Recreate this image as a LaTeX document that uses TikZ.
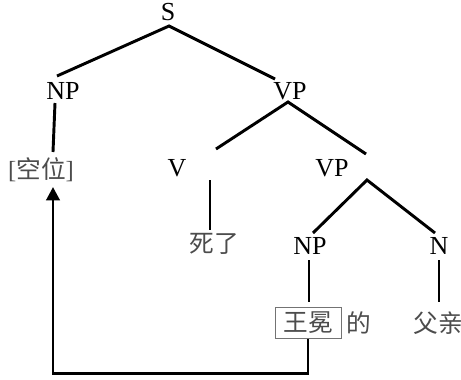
\documentclass[tikz,border=0pt]{standalone}
\usepackage{fontspec}
\setmainfont{Liberation Serif}
\newfontfamily\cjk{Noto Sans CJK SC}
\usetikzlibrary{arrows.meta}

\tikzset{
  cat/.style={inner sep=0.75pt, font=\fontsize{19.5}{22}\selectfont},
  word/.style={inner sep=0.75pt, text=black!70, font=\fontsize{18.5}{22}\selectfont\cjk},
  branch/.style={line width=2.2pt},
}

\begin{document}
\begin{tikzpicture}[x=0.75pt,y=0.75pt,yscale=-1,xscale=1]
\useasboundingbox (0,0) rectangle (461,379);

% Text Node
\node [cat] (s) at (168,12) {S};
% Text Node
\node [cat] (np) at (63,91) {NP};
% Text Node
\node [cat] (vp) at (290,91) {VP};
% Text Node
\node [word] (empty) at (41,170) {{\rmfamily[}空位{\rmfamily]}};
% Text Node
\node [cat] (v) at (177,168) {V};
% Text Node
\node [cat] (vpb) at (332,168) {VP};
% Text Node
\node [word] (die) at (214,244) {死了};
% Text Node
\node [cat] (npb) at (310,246) {NP};
% Text Node
\node [cat] (n) at (439,246) {N};
% Text Node (boxed)
\node [word, draw=black!55, line width=0.75pt, minimum width=49.5pt, minimum height=23.5pt] (wang) at (308,323) {王冕};
% Text Node
\node [word] (de) at (359,323) {的};
% Text Node
\node [word] (father) at (438,323) {父亲};

% branch ends
\coordinate (s-b) at (169,26);
\coordinate (np-t) at (57,76);
\coordinate (vp-t) at (275,79);
\coordinate (np-b) at (55,103);
\coordinate (empty-t) at (53,152);
\coordinate (vp-b) at (288,102);
\coordinate (v-t) at (216,149);
\coordinate (vpb-t) at (366,154);
\coordinate (v-b) at (210,180);
\coordinate (die-t) at (210,230);
\coordinate (vpb-b) at (367,180);
\coordinate (npb-t) at (313,233);
\coordinate (n-t) at (435,233);
\coordinate (npb-b) at (309,260);
\coordinate (wang-t) at (309,302);
\coordinate (n-b) at (439,260);
\coordinate (father-t) at (439,302);
\coordinate (trace) at (53,187);

%Straight Lines
\draw [branch] (np-t) -- (s-b) -- (vp-t);
\draw [branch] (np-b) -- (empty-t);
\draw [branch] (v-t) -- (vp-b) -- (vpb-t);
\draw [branch] (v-b) -- (die-t);
\draw [branch] (npb-t) -- (vpb-b) -- (n-t);
\draw [branch] (npb-b) -- (wang-t);
\draw [branch] (n-b) -- (father-t);

%Movement arrow
\draw [branch, -{Triangle[width=10pt,length=10pt]}] (wang.south) -- ++(0,34) -| (trace);

\end{tikzpicture}
\end{document}
